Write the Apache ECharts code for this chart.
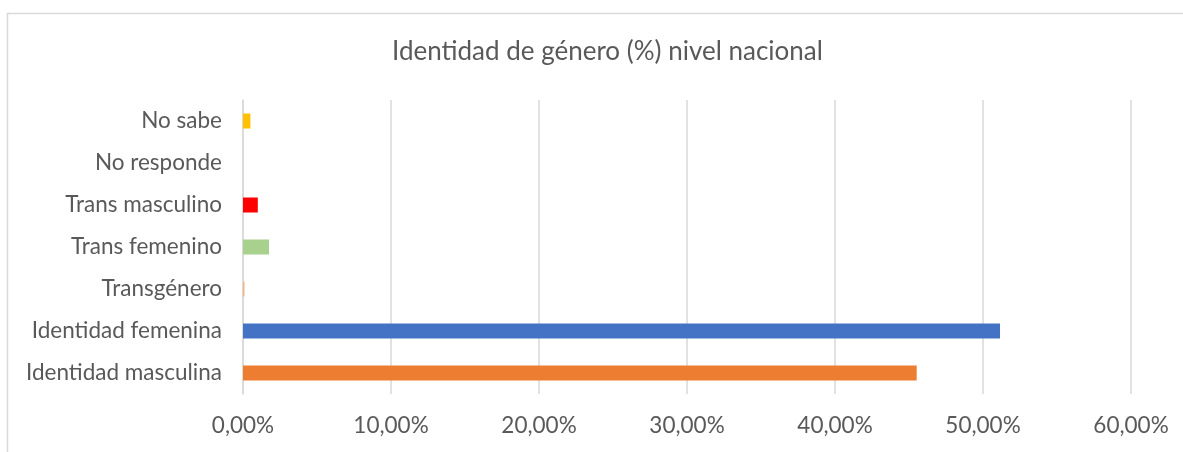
<!DOCTYPE html>
<html>
<head>
<meta charset="utf-8">
<script src="https://cdn.jsdelivr.net/npm/echarts@6/dist/echarts.min.js"></script>
<style>
html,body{margin:0;padding:0;background:#fff;}
#c{width:1183px;height:452px;}
</style>
</head>
<body>
<div id="c"></div>
<script>
const categories = ["Identidad masculina","Identidad femenina","Transgénero","Trans femenino","Trans masculino","No responde","No sabe"];
const values = [45.52, 51.15, 0.1, 1.76, 1.0, 0, 0.5];
const barColors = ["#ED7D31","#4472C4","#F4B183","#A9D18E","#FF0000","#A5A5A5","#FFC000"];
const xTicks = [0, 10, 20, 30, 40, 50, 60];

const font = "Lato";
const chart = echarts.init(document.getElementById('c'));
chart.setOption({
  animation: false,
  title: {
    text: "Identidad de género (%) nivel nacional",
    left: 387,
    top: 34,
    textStyle: {fontFamily: font, fontSize: 26, fontWeight: 'normal', color: '#595959'}
  },
  graphic: [{
    type: 'rect', shape: {x: 7.5, y: 13.5, width: 1200, height: 500},
    style: {fill: 'none', stroke: '#d9d9d9', lineWidth: 1.5}, silent: true, z: -1
  }],
  grid: {left: 243, right: 52, top: 100, bottom: 58, containLabel: false},
  xAxis: {
    type: 'value', min: xTicks[0], max: xTicks[xTicks.length-1], interval: 10,
    axisLine: {show: false}, axisTick: {show: false},
    splitLine: {show: true, lineStyle: {color: '#d9d9d9', width: 1.5}},
    axisLabel: {margin: 20, fontFamily: font, fontSize: 22.5, color: '#595959',
      formatter: v => v.toFixed(2).replace('.', ',') + '%'}
  },
  yAxis: {
    type: 'category', data: categories,
    axisLine: {show: true, lineStyle: {color: '#d9d9d9', width: 1.5}},
    axisTick: {show: false},
    axisLabel: {margin: 21, fontFamily: font, fontSize: 22.5, color: '#595959'}
  },
  series: [{
    type: 'bar', barWidth: 15,
    data: values.map((v, i) => ({value: v, itemStyle: {color: barColors[i]}}))
  }]
});
</script>
</body>
</html>
